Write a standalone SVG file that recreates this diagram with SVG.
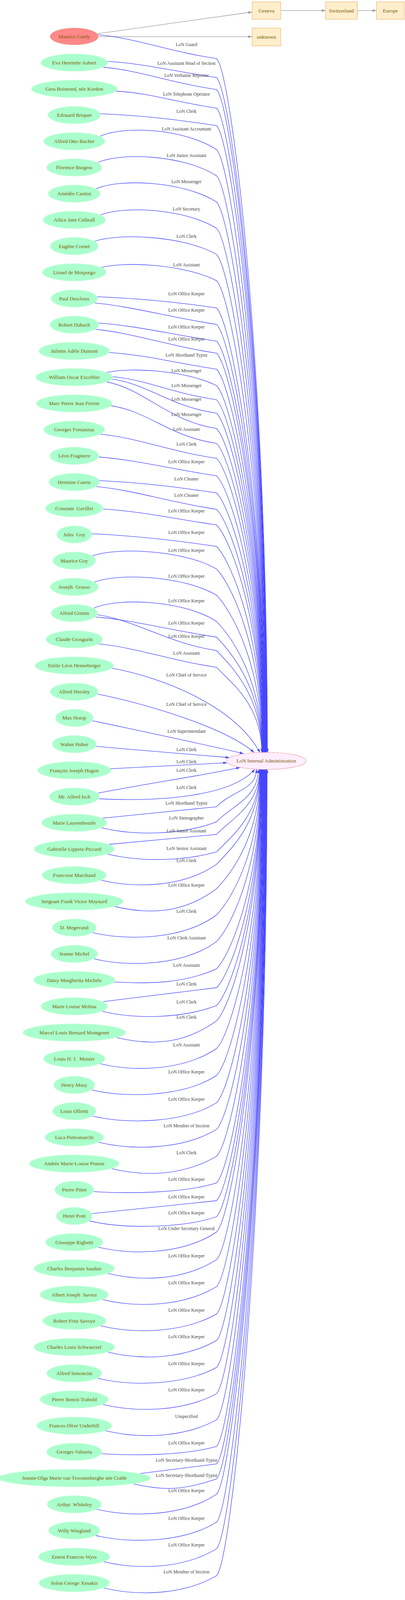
<svg xmlns="http://www.w3.org/2000/svg" width="1036" height="4389" viewBox="0 0 1036 4389">
<style>
.n ellipse{fill:#aaffcc;stroke:#d6ffe4;stroke-width:1.2}
.n text,.b text,.tg text{font-family:"Liberation Serif","Times New Roman",serif;font-size:13.3px;fill:#7a5800;text-anchor:middle}
.n text.sp{white-space:pre}
.b rect{fill:#ffeecc;stroke:#e8b86c;stroke-width:1.2}
.l{font-family:"Liberation Serif","Times New Roman",serif;font-size:12px;fill:#444;text-anchor:middle}
.e{fill:none;stroke:#4646ff;stroke-width:1.3;marker-end:url(#ab);vector-effect:non-scaling-stroke}
.g{fill:none;stroke:#999;stroke-width:1.3;marker-end:url(#ag);vector-effect:non-scaling-stroke}
</style>
<defs>
<marker id="ab" viewBox="0 0 10 7" refX="10" refY="3.5" markerWidth="10" markerHeight="7" markerUnits="userSpaceOnUse" orient="auto"><path d="M0,0L10,3.5L0,7z" fill="#4646ff"/></marker>
<marker id="ag" viewBox="0 0 10 7" refX="10" refY="3.5" markerWidth="10" markerHeight="7" markerUnits="userSpaceOnUse" orient="auto"><path d="M0,0L10,3.5L0,7z" fill="#999"/></marker>
</defs>
<rect width="1036" height="4389" fill="#fff"/>
<g id="connectors">
<g id="edge-lines" transform="matrix(1 0 0 0.932 0 0)">
<path class="g" d="M246,93 L645,33"/>
<path class="g" d="M250,100.7 L645,100.7"/>
<path class="g" d="M718,29 L833,29"/>
<path class="g" d="M914,29 L963,29"/>
<path class="e" d="M249,95 C349,105 430,141 554,161 C594,206 684,1019 684,2067"/>
<path class="e" d="M271,168 C371,175 430,193 554,213 C594,258 683.6,1047 683.6,2067"/>
<path class="e" d="M258.5,184 C358.5,193 430,226 554,246 C594,291 683.1,1066 683.1,2067"/>
<path class="e" d="M294,250 C394,257 430,277 554,297 C594,342 682.7,1094 682.7,2067"/>
<path class="e" d="M254,312 C354,317 430,325 554,345 C594,390 682.2,1120 682.2,2067"/>
<path class="e" d="M252.6,376 C312.6,344 470,352 554,411 C594,456 681.8,1156 681.8,2067"/>
<path class="e" d="M246.6,448 C306.6,417 470,425 554,483 C594,528 681.3,1196 681.3,2067"/>
<path class="e" d="M243.2,520 C303.2,489 470,497 554,555 C594,600 680.9,1235 680.9,2067"/>
<path class="e" d="M253.9,592 C313.9,564 470,572 554,627 C594,672 680.4,1275 680.4,2067"/>
<path class="e" d="M239,664 C299,639 470,647 554,699 C594,744 680,1315 680,2067"/>
<path class="e" d="M255,736 C315,717 470,725 554,771 C594,816 679.5,1354 679.5,2067"/>
<path class="e" d="M246.7,815 C346.7,820 430,826 554,846 C594,891 679.1,1396 679.1,2067"/>
<path class="e" d="M237.8,832 C337.8,841 430,871 554,891 C594,936 678.6,1420 678.6,2067"/>
<path class="e" d="M249,887 C349,894.5 430,917 554,937 C594,982 678.2,1446 678.2,2067"/>
<path class="e" d="M239.8,904 C339.8,914 430,950 554,970 C594,1015 677.7,1464 677.7,2067"/>
<path class="e" d="M276,968 C376,975 430,994 554,1014 C594,1059 677.3,1488 677.3,2067"/>
<path class="e" d="M268.6,1024 C328.6,1008 470,1016 554,1059 C594,1104 676.8,1513 676.8,2067"/>
<path class="e" d="M283,1034 C383,1044 430,1078 554,1098 C594,1143 676.4,1534 676.4,2067"/>
<path class="e" d="M280,1040 C380,1054 430,1115 554,1135 C594,1180 675.9,1554 675.9,2067"/>
<path class="e" d="M268.6,1048 C368.6,1067 430,1157 554,1177 C594,1222 675.5,1578 675.5,2067"/>
<path class="e" d="M282,1114 C382,1130 430,1198 554,1218 C594,1263 675,1600 675,2067"/>
<path class="e" d="M252.4,1192 C352.4,1202 430,1239 554,1259 C594,1304 674.6,1623 674.6,2067"/>
<path class="e" d="M249.7,1255 C349.7,1263 430,1287 554,1307 C594,1352 674.1,1649 674.1,2067"/>
<path class="e" d="M251.7,1320 C351.7,1325 430,1334 554,1354 C594,1399 673.7,1675 673.7,2067"/>
<path class="e" d="M241.9,1336 C341.9,1345.5 430,1379 554,1399 C594,1444 673.2,1700 673.2,2067"/>
<path class="e" d="M260,1398 C360,1404.6 430,1422 554,1442 C594,1487 672.8,1723 672.8,2067"/>
<path class="e" d="M232.6,1466 C332.6,1471 430,1481 554,1501 C594,1546 672.3,1756 672.3,2067"/>
<path class="e" d="M234,1528 C294,1502 470,1510 554,1563 C594,1608 671.9,1790 671.9,2067"/>
<path class="e" d="M239.2,1600 C299.2,1573 470,1581 554,1635 C594,1680 671.4,1829 671.4,2067"/>
<path class="e" d="M237.4,1672 C297.4,1640 470,1648 554,1707 C594,1752 671,1869 671,2067"/>
<path class="e" d="M237.4,1694 C337.4,1702 430,1730 554,1750 C594,1795 670.5,1893 670.5,2067"/>
<path class="e" d="M246,1688 C346,1703 430,1767 554,1787 C594,1832 670.1,1913 670.1,2067"/>
<path class="e" d="M247.8,1768 C347.8,1778 430,1813 554,1833 C594,1878 669.6,1938 669.6,2067"/>
<path class="e" d="M285,1835 C420,1862 600,1940 665,2067"/>
<path class="e" d="M248,1906 C380,1935 580,2000 650,2067"/>
<path class="e" d="M234,1979 C360,2008 520,2044 623,2070"/>
<path class="e" d="M244,2050 C360,2061 480,2071 587,2081"/>
<path class="e" d="M276,2112 C380,2107 480,2101 581,2095"/>
<path class="e" d="M244,2180 C360,2155 520,2130 614,2108"/>
<path class="e" d="M250,2194 C400,2202 590,2190 652,2113"/>
<path class="e" d="M256.6,2248 C355.7,2237.3 454.9,2226.7 554,2216 C594,2171 656,2170 656,2113"/>
<path class="e" d="M256.6,2273 C346.6,2297 470,2293 554,2257 C594,2212 661,2192 661,2113"/>
<path class="e" d="M272,2320 C366,2310.7 460,2301.3 554,2292 C594,2247 664,2211.5 664,2113"/>
<path class="e" d="M272,2345 C362,2369 470,2365 554,2340 C594,2295 664.6,2238 664.6,2113"/>
<path class="e" d="M255.8,2417 C345.8,2441 470,2437 554,2374 C594,2329 665.2,2256.6 665.2,2113"/>
<path class="e" d="M290,2489 C380,2513 470,2509 554,2441 C594,2396 665.8,2293.4 665.8,2113"/>
<path class="e" d="M235,2561 C325,2585 470,2581 554,2513 C594,2468 666.4,2333 666.4,2113"/>
<path class="e" d="M237.8,2633 C327.8,2657 470,2653 554,2586 C594,2541 667,2373.2 667,2113"/>
<path class="e" d="M288.8,2697 C378.8,2703 470,2702 554,2661 C594,2616 667.6,2414.4 667.6,2113"/>
<path class="e" d="M258,2752 C356.7,2739 455.3,2726 554,2713 C594,2668 668.2,2443 668.2,2113"/>
<path class="e" d="M258,2777 C348,2801 470,2797 554,2762 C594,2717 668.8,2470 668.8,2113"/>
<path class="e" d="M295,2849 C385,2873 470,2869 554,2804 C594,2759 669.4,2493 669.4,2113"/>
<path class="e" d="M253,2921 C343,2945 470,2941 554,2880 C594,2835 670,2535 670,2113"/>
<path class="e" d="M232,2993 C322,3017 470,3013 554,2954 C594,2909 670.6,2575.6 670.6,2113"/>
<path class="e" d="M234.4,3065 C324.4,3089 470,3085 554,3029 C594,2984 671.2,2616.8 671.2,2113"/>
<path class="e" d="M250,3137 C340,3161 470,3157 554,3102 C594,3057 671.8,2657 671.8,2113"/>
<path class="e" d="M282,3209 C372,3233 470,3229 554,3176 C594,3131 672.4,2697.7 672.4,2113"/>
<path class="e" d="M237.3,3273 C327.3,3279 470,3278 554,3249 C594,3204 673,2737.8 673,2113"/>
<path class="e" d="M230,3334 C338,3322 446,3310 554,3298 C594,3253 673.6,2764.8 673.6,2113"/>
<path class="e" d="M227,3353 C317,3377 470,3373 554,3342 C594,3297 674.2,2789 674.2,2113"/>
<path class="e" d="M248.6,3425 C338.6,3449 470,3445 554,3384 C594,3339 674.8,2812.1 674.8,2113"/>
<path class="e" d="M272,3497 C362,3521 470,3517 554,3460 C594,3415 675.4,2853.9 675.4,2113"/>
<path class="e" d="M260,3569 C350,3593 470,3589 554,3534 C594,3489 676,2894.6 676,2113"/>
<path class="e" d="M254.7,3641 C344.7,3665 470,3661 554,3609 C594,3564 676.6,2935.8 676.6,2113"/>
<path class="e" d="M272.7,3713 C362.7,3737 470,3733 554,3682 C594,3637 677.2,2976 677.2,2113"/>
<path class="e" d="M246.6,3785 C336.6,3809 470,3805 554,3756 C594,3711 677.8,3016.7 677.8,2113"/>
<path class="e" d="M259.8,3857 C349.8,3881 470,3877 554,3828 C594,3783 678.4,3056.3 678.4,2113"/>
<path class="e" d="M266.9,3929 C356.9,3953 470,3949 554,3900 C594,3855 679,3095.9 679,2113"/>
<path class="e" d="M257.2,3993 C347.2,3999 470,3998 554,3973 C594,3928 679.6,3136 679.6,2113"/>
<path class="e" d="M340,4050 C411.3,4040.3 482.7,4030.7 554,4021 C594,3976 680.2,3162.4 680.2,2113"/>
<path class="e" d="M331,4073 C421,4097 470,4093 554,4062 C594,4017 680.8,3185 680.8,2113"/>
<path class="e" d="M245.5,4145 C335.5,4169 470,4165 554,4104 C594,4059 681.4,3208.1 681.4,2113"/>
<path class="e" d="M242.4,4217 C332.4,4241 470,4237 554,4181 C594,4136 682,3250.4 682,2113"/>
<path class="e" d="M263,4289 C353,4313 470,4309 554,4254 C594,4209 682.6,3290.6 682.6,2113"/>
<path class="e" d="M262,4361 C352,4385 470,4381 554,4328 C594,4283 683.2,3331.3 683.2,2113"/>
</g>
<g id="edge-labels">
<text class="l" x="477" y="117.7">LoN Guard</text>
<text class="l" x="477" y="166.2">LoN Assistant Head of Section</text>
<text class="l" x="477" y="196.9">LoN Verbatim Reporter</text>
<text class="l" x="477" y="244.5">LoN Telephone Operator</text>
<text class="l" x="477" y="289.2">LoN Clerk</text>
<text class="l" x="477" y="333.9">LoN Assistant Accountant</text>
<text class="l" x="477" y="402">LoN Junior Assistant</text>
<text class="l" x="477" y="469.1">LoN Messenger</text>
<text class="l" x="477" y="539">LoN Secretary</text>
<text class="l" x="477" y="608.9">LoN Clerk</text>
<text class="l" x="477" y="681.6">LoN Assistant</text>
<text class="l" x="477" y="756.1">LoN Office Keeper</text>
<text class="l" x="477" y="798.1">LoN Office Keeper</text>
<text class="l" x="477" y="840.9">LoN Office Keeper</text>
<text class="l" x="477" y="871.7">LoN Office Keeper</text>
<text class="l" x="477" y="912.7">LoN Shorthand Typist</text>
<text class="l" x="477" y="952.8">LoN Messenger</text>
<text class="l" x="477" y="991">LoN Messenger</text>
<text class="l" x="477" y="1025.5">LoN Messenger</text>
<text class="l" x="477" y="1064.6">LoN Messenger</text>
<text class="l" x="477" y="1102.8">LoN Assistant</text>
<text class="l" x="477" y="1141">LoN Clerk</text>
<text class="l" x="477" y="1185.8">LoN Office Keeper</text>
<text class="l" x="477" y="1229.6">LoN Cleaner</text>
<text class="l" x="477" y="1271.5">LoN Cleaner</text>
<text class="l" x="477" y="1311.6">LoN Office Keeper</text>
<text class="l" x="477" y="1366.6">LoN Office Keeper</text>
<text class="l" x="477" y="1413.2">LoN Office Keeper</text>
<text class="l" x="477" y="1479.4">LoN Office Keeper</text>
<text class="l" x="477" y="1541.8">LoN Office Keeper</text>
<text class="l" x="477" y="1598.7">LoN Office Keeper</text>
<text class="l" x="477" y="1633.1">LoN Office Keeper</text>
<text class="l" x="477" y="1676">LoN Assistant</text>
<text class="l" x="477" y="1731.9">LoN Chief of Service</text>
<text class="l" x="477" y="1807.4">LoN Chief of Service</text>
<text class="l" x="477" y="1875.5">LoN Superintendant</text>
<text class="l" x="477" y="1923">LoN Clerk</text>
<text class="l" x="477" y="1953.7">LoN Clerk</text>
<text class="l" x="477" y="1976.1">LoN Clerk</text>
<text class="l" x="477" y="2019.9">LoN Clerk</text>
<text class="l" x="477" y="2060">LoN Shorthand Typist</text>
<text class="l" x="477" y="2098.2">LoN Stenographer</text>
<text class="l" x="477" y="2130.8">LoN Junior Assistant</text>
<text class="l" x="477" y="2175.6">LoN Senior Assistant</text>
<text class="l" x="477" y="2207.2">LoN Clerk</text>
<text class="l" x="477" y="2269.7">LoN Office Keeper</text>
<text class="l" x="477" y="2336.8">LoN Clerk</text>
<text class="l" x="477" y="2404.8">LoN Clerk Assistant</text>
<text class="l" x="477" y="2474.7">LoN Assistant</text>
<text class="l" x="477" y="2523.2">LoN Clerk</text>
<text class="l" x="477" y="2568.9">LoN Clerk</text>
<text class="l" x="477" y="2608">LoN Clerk</text>
<text class="l" x="477" y="2678.8">LoN Assistant</text>
<text class="l" x="477" y="2747.8">LoN Office Keeper</text>
<text class="l" x="477" y="2817.7">LoN Office Keeper</text>
<text class="l" x="477" y="2885.7">LoN Member of Section</text>
<text class="l" x="477" y="2954.7">LoN Clerk</text>
<text class="l" x="477" y="3022.7">LoN Office Keeper</text>
<text class="l" x="477" y="3068.4">LoN Office Keeper</text>
<text class="l" x="477" y="3109.4">LoN Office Keeper</text>
<text class="l" x="477" y="3148.6">LoN Under Secretary General</text>
<text class="l" x="477" y="3219.4">LoN Office Keeper</text>
<text class="l" x="477" y="3288.4">LoN Office Keeper</text>
<text class="l" x="477" y="3358.3">LoN Office Keeper</text>
<text class="l" x="477" y="3426.3">LoN Office Keeper</text>
<text class="l" x="477" y="3495.3">LoN Office Keeper</text>
<text class="l" x="477" y="3562.4">LoN Office Keeper</text>
<text class="l" x="477" y="3629.5">Unspecified</text>
<text class="l" x="477" y="3697.5">LoN Office Keeper</text>
<text class="l" x="477" y="3742.3">LoN Secretary-Shorthand-Typist</text>
<text class="l" x="477" y="3780.5">LoN Secretary-Shorthand-Typist</text>
<text class="l" x="477" y="3819.6">LoN Office Keeper</text>
<text class="l" x="477" y="3891.4">LoN Office Keeper</text>
<text class="l" x="477" y="3959.4">LoN Office Keeper</text>
<text class="l" x="477" y="4028.4">LoN Member of Section</text>
</g>
</g>
<g id="places">
<g id="geneva" class="b"><rect x="645" y="4.7" width="73" height="44.7"/><text x="681.5" y="31.5">Geneva</text></g>
<g id="switzerland" class="b"><rect x="833" y="4.7" width="81" height="44.7"/><text x="873.5" y="31.5">Switzerland</text></g>
<g id="europe" class="b"><rect x="963" y="4.7" width="71" height="44.7"/><text x="998.5" y="31.5">Europe</text></g>
<g id="unknown" class="b"><rect x="645" y="71.8" width="73" height="45.7"/><text x="681.5" y="98.6">unknown</text></g>
</g>
<g id="target" class="tg"><ellipse cx="681" cy="1947.9" rx="102" ry="21.9" fill="#ffeeff" stroke="#e8a4a4" stroke-width="1.2"/><text x="681" y="1952.4">LoN Internal Administration</text></g>
<g id="people" class="n">
<g id="n1"><ellipse cx="190" cy="93.2" rx="62.3" ry="22.4" style="fill:#ff8888"/><text x="190" y="97.7">Maurice Gardy</text></g>
<g id="n2"><ellipse cx="190" cy="160.3" rx="85.6" ry="22.4"/><text x="190" y="164.8">Eva Henriette Aubert</text></g>
<g id="n3"><ellipse cx="190" cy="227.4" rx="109.7" ry="22.4"/><text x="190" y="231.9">Gera Boimond, née Kordon</text></g>
<g id="n4"><ellipse cx="190" cy="294.5" rx="67.6" ry="22.4"/><text x="190" y="299">Edouard Briquet</text></g>
<g id="n5"><ellipse cx="190" cy="361.6" rx="78.3" ry="22.4"/><text x="190" y="366.1">Alfred Otto Bucher</text></g>
<g id="n6"><ellipse cx="190" cy="428.7" rx="70.7" ry="22.4"/><text x="190" y="433.2">Florence Burgess</text></g>
<g id="n7"><ellipse cx="190" cy="495.8" rx="66.5" ry="22.4"/><text x="190" y="500.3">Amédée Cantini</text></g>
<g id="n8"><ellipse cx="190" cy="562.9" rx="79.9" ry="22.4"/><text x="190" y="567.4">Ailice Jane Cathrall</text></g>
<g id="n9"><ellipse cx="190" cy="630" rx="61.3" ry="22.4"/><text x="190" y="634.5">Eugène Cornet</text></g>
<g id="n10"><ellipse cx="190" cy="697.1" rx="81.4" ry="22.4"/><text x="190" y="701.6">Lionel de Morpurgo</text></g>
<g id="n11"><ellipse cx="190" cy="764.2" rx="59.7" ry="22.4"/><text x="190" y="768.7">Paul Descloux</text></g>
<g id="n12"><ellipse cx="190" cy="831.3" rx="62.3" ry="22.4"/><text x="190" y="835.8">Robert Dubach</text></g>
<g id="n13"><ellipse cx="190" cy="898.4" rx="90.4" ry="22.4"/><text x="190" y="902.9">Juliette Adèle Dumont</text></g>
<g id="n14"><ellipse cx="190" cy="965.6" rx="98.2" ry="22.4"/><text x="190" y="970.1">William Oscar Excoffier</text></g>
<g id="n15"><ellipse cx="190" cy="1032.7" rx="96.9" ry="22.4"/><text x="190" y="1037.2">Marc Pierre Jean Ferrier</text></g>
<g id="n16"><ellipse cx="190" cy="1099.8" rx="78" ry="22.4"/><text x="190" y="1104.3">Georges Fontannaz</text></g>
<g id="n17"><ellipse cx="190" cy="1166.9" rx="62.8" ry="22.4"/><text x="190" y="1171.4">Léon Fragniere</text></g>
<g id="n18"><ellipse cx="190" cy="1234" rx="64.9" ry="22.4"/><text x="190" y="1238.5">Hermine Gareis</text></g>
<g id="n19"><ellipse cx="190" cy="1301.1" rx="73.6" ry="22.4"/><text class="sp" x="190" y="1305.6">Constant  Gavillet</text></g>
<g id="n20"><ellipse cx="190" cy="1368.2" rx="44.8" ry="22.4"/><text class="sp" x="190" y="1372.7">Jules  Goy</text></g>
<g id="n21"><ellipse cx="190" cy="1435.3" rx="55" ry="22.4"/><text x="190" y="1439.8">Maurice Goy</text></g>
<g id="n22"><ellipse cx="190" cy="1502.4" rx="61.5" ry="22.4"/><text class="sp" x="190" y="1506.9">Joseph  Grasso</text></g>
<g id="n23"><ellipse cx="190" cy="1569.5" rx="59.2" ry="22.4"/><text x="190" y="1574">Alfred Grimm</text></g>
<g id="n24"><ellipse cx="190" cy="1636.6" rx="72.3" ry="22.4"/><text x="190" y="1641.1">Claude Grosgurin</text></g>
<g id="n25"><ellipse cx="190" cy="1703.7" rx="100.3" ry="22.4"/><text x="190" y="1708.2">Emlie Léon Henneberger</text></g>
<g id="n26"><ellipse cx="190" cy="1770.8" rx="61.3" ry="22.4"/><text x="190" y="1775.3">Alfred Hersley</text></g>
<g id="n27"><ellipse cx="190" cy="1837.9" rx="48.2" ry="22.4"/><text x="190" y="1842.4">Max Hotop</text></g>
<g id="n28"><ellipse cx="190" cy="1905" rx="56.6" ry="22.4"/><text x="190" y="1909.5">Walter Huber</text></g>
<g id="n29"><ellipse cx="190" cy="1972.1" rx="93.5" ry="22.4"/><text x="190" y="1976.6">François Joseph Hugon</text></g>
<g id="n30"><ellipse cx="190" cy="2039.2" rx="63.9" ry="22.4"/><text x="190" y="2043.7">Mr. Alfred Isch</text></g>
<g id="n31"><ellipse cx="190" cy="2106.3" rx="83.3" ry="22.4"/><text x="190" y="2110.8">Marie Laurembourle</text></g>
<g id="n32"><ellipse cx="190" cy="2173.4" rx="102.6" ry="22.4"/><text x="190" y="2177.9">Gabrielle Lippetz-Piccard</text></g>
<g id="n33"><ellipse cx="190" cy="2240.5" rx="82.2" ry="22.4"/><text x="190" y="2245">Francoise Marchand</text></g>
<g id="n34"><ellipse cx="190" cy="2307.6" rx="125.2" ry="22.4"/><text x="190" y="2312.1">Sergeant Frank Victor Maynard</text></g>
<g id="n35"><ellipse cx="190" cy="2374.8" rx="56.3" ry="22.4"/><text x="190" y="2379.3">D. Megevand</text></g>
<g id="n36"><ellipse cx="190" cy="2441.9" rx="59.7" ry="22.4"/><text x="190" y="2446.4">Jeanne Michel</text></g>
<g id="n37"><ellipse cx="190" cy="2509" rx="104" ry="22.4"/><text x="190" y="2513.5">Daisy Margherita Michels</text></g>
<g id="n38"><ellipse cx="190" cy="2576.1" rx="85.1" ry="22.4"/><text x="190" y="2580.6">Marie Louise Molina</text></g>
<g id="n39"><ellipse cx="190" cy="2643.2" rx="131.4" ry="22.4"/><text x="190" y="2647.7">Marcel Louis Bernard Montgenet</text></g>
<g id="n40"><ellipse cx="190" cy="2710.3" rx="78.8" ry="22.4"/><text class="sp" x="190" y="2714.8">Louis H. J.  Munier</text></g>
<g id="n41"><ellipse cx="190" cy="2777.4" rx="52.4" ry="22.4"/><text x="190" y="2781.9">Henry Musy</text></g>
<g id="n42"><ellipse cx="190" cy="2844.5" rx="55.5" ry="22.4"/><text x="190" y="2849">Louis Ollietti</text></g>
<g id="n43"><ellipse cx="190" cy="2911.6" rx="74.9" ry="22.4"/><text x="190" y="2916.1">Luca Pietromarchi</text></g>
<g id="n44"><ellipse cx="190" cy="2978.7" rx="114.9" ry="22.4"/><text x="190" y="2983.2">Andrée Marie-Louise Pisteur</text></g>
<g id="n45"><ellipse cx="190" cy="3045.8" rx="49.8" ry="22.4"/><text x="190" y="3050.3">Pierre Pittet</text></g>
<g id="n46"><ellipse cx="190" cy="3112.9" rx="46.1" ry="22.4"/><text x="190" y="3117.4">Henri Pont</text></g>
<g id="n47"><ellipse cx="190" cy="3180" rx="73.3" ry="22.4"/><text x="190" y="3184.5">Giuseppe Righetti</text></g>
<g id="n48"><ellipse cx="190" cy="3247.1" rx="102.9" ry="22.4"/><text x="190" y="3251.6">Charles Benjamin Saudan</text></g>
<g id="n49"><ellipse cx="190" cy="3314.2" rx="87.5" ry="22.4"/><text class="sp" x="190" y="3318.7">Albert Joseph  Savioz</text></g>
<g id="n50"><ellipse cx="190" cy="3381.3" rx="80.9" ry="22.4"/><text x="190" y="3385.8">Robert Fritz Savoye</text></g>
<g id="n51"><ellipse cx="190" cy="3448.4" rx="103.4" ry="22.4"/><text x="190" y="3452.9">Charles Louis Schwaerzel</text></g>
<g id="n52"><ellipse cx="190" cy="3515.5" rx="70.7" ry="22.4"/><text x="190" y="3520">Alfred Simoncini</text></g>
<g id="n53"><ellipse cx="190" cy="3582.6" rx="87.2" ry="22.4"/><text x="190" y="3587.1">Pierre Benoit Trabold</text></g>
<g id="n54"><ellipse cx="190" cy="3649.7" rx="96.1" ry="22.4"/><text x="190" y="3654.2">Frances Olive Underhill</text></g>
<g id="n55"><ellipse cx="190" cy="3716.8" rx="70.7" ry="22.4"/><text x="190" y="3721.3">Georges Valsesia</text></g>
<g id="n56"><ellipse cx="190" cy="3783.9" rx="195.1" ry="22.4"/><text x="190" y="3788.4">Jeanne-Olga Marie van Troostenberghe née Crabb</text></g>
<g id="n57"><ellipse cx="190" cy="3851" rx="69.4" ry="22.4"/><text class="sp" x="190" y="3855.5">Arthur  Whiteley</text></g>
<g id="n58"><ellipse cx="190" cy="3918.1" rx="65.5" ry="22.4"/><text x="190" y="3922.6">Willy Wiegland</text></g>
<g id="n59"><ellipse cx="190" cy="3985.3" rx="91.4" ry="22.4"/><text x="190" y="3989.8">Ernest Francois Wyss</text></g>
<g id="n60"><ellipse cx="190" cy="4052.4" rx="90.3" ry="22.4"/><text x="190" y="4056.9">Solon George Xenakis</text></g>
</g>
</svg>
